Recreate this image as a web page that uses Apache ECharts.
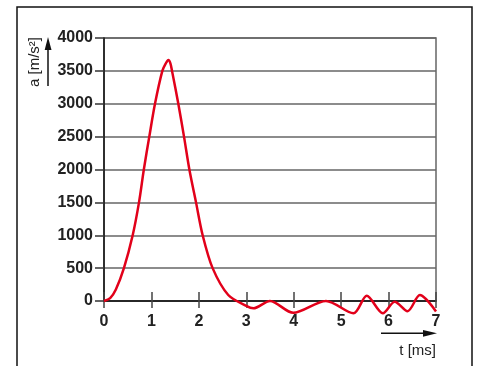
<!DOCTYPE html>
<html>
<head>
<meta charset="utf-8">
<script src="https://cdn.jsdelivr.net/npm/echarts@6/dist/echarts.min.js"></script>
<style>
  html, body { margin: 0; padding: 0; background: #fff; }
  #chart { width: 478px; height: 366px; }
</style>
</head>
<body>
<div id="chart"></div>
<script>
// time [ms] and acceleration [m/s2]
var tMs = [0, 0.13, 0.25, 0.42, 0.605, 0.738, 0.84, 0.955, 1.075, 1.23, 1.3, 1.356, 1.4, 1.434, 1.567, 1.687, 1.8, 1.94, 2.08, 2.29, 2.62, 3.0, 3.15, 3.5, 3.99, 4.68, 5.26, 5.54, 5.88, 6.13, 6.4, 6.66, 7.0]
var accel = [0, 45, 175, 500, 1000, 1500, 2000, 2500, 3000, 3500, 3610, 3665, 3615, 3500, 3000, 2500, 2000, 1500, 1000, 500, 91, -75, -111, 0, -180, 0, -187, 80, -187, -10, -155, 90, -160]
var yTicks = [0, 500, 1000, 1500, 2000, 2500, 3000, 3500, 4000]
var xTicks = [0, 1, 2, 3, 4, 5, 6, 7]

var font = "'Liberation Sans', Arial, sans-serif"
var myChart = echarts.init(document.getElementById('chart'))

var labelStyle = {
  fontFamily: font,
  fontSize: 16,
  fontWeight: 'bold',
  color: '#222'
}

var xBase = {
  type: 'value',
  position: 'bottom',
  min: xTicks[0],
  max: xTicks[xTicks.length - 1],
  interval: 1,
  splitLine: { show: false }
}

var option = {
  animation: false,
  grid: {
    left: 104,
    right: 42,
    top: 38,
    bottom: 65,
    show: true,
    borderColor: '#666',
    borderWidth: 1.5
  },
  xAxis: [
    Object.assign({}, xBase, {
      axisLine: { show: true, onZero: false, lineStyle: { color: '#111', width: 1.5 } },
      axisTick: { show: true, inside: true, length: 9, lineStyle: { color: '#444', width: 1.5 } },
      axisLabel: Object.assign({ margin: 13, formatter: function (v) { return String(v) } }, labelStyle)
    }),
    // second axis only for the lower half of the crossing ticks
    Object.assign({}, xBase, {
      axisLine: { show: false, onZero: false },
      axisTick: { show: true, inside: false, length: 7, lineStyle: { color: '#444', width: 1.5 } },
      axisLabel: { show: false }
    })
  ],
  yAxis: {
    type: 'value',
    min: yTicks[0],
    max: yTicks[yTicks.length - 1],
    interval: 500,
    axisLine: { show: true, lineStyle: { color: '#111', width: 1.5 } },
    axisTick: { show: true, length: 9, lineStyle: { color: '#333', width: 1.5 } },
    splitLine: { show: true, lineStyle: { color: '#666', width: 1.5 } },
    axisLabel: Object.assign({ margin: 11, formatter: function (v) { return String(v) } }, labelStyle)
  },
  series: [
    {
      type: 'line',
      data: tMs.map(function (t, i) { return [t, accel[i]] }),
      smooth: 0.3,
      showSymbol: false,
      clip: false,
      z: 5,
      lineStyle: { color: '#e2001a', width: 2.5 }
    }
  ],
  graphic: [
    // outer frame (open at the bottom)
    { type: 'polyline', shape: { points: [[17, 366], [17, 7], [472, 7], [472, 366]] }, style: { stroke: '#111', lineWidth: 1.5, fill: null } },
    // y axis name + arrow
    { type: 'text', x: 35, y: 62, rotation: Math.PI / 2, style: { text: 'a [m/s²]', font: '15px ' + font, fill: '#222', align: 'center', verticalAlign: 'middle' } },
    { type: 'line', shape: { x1: 48, y1: 86, x2: 48, y2: 48 }, style: { stroke: '#111', lineWidth: 1.5 } },
    { type: 'polygon', shape: { points: [[48, 37], [44.7, 50], [51.5, 50]] }, style: { fill: '#111' } },
    // x axis name + arrow
    { type: 'line', shape: { x1: 381, y1: 333.3, x2: 425, y2: 333.3 }, style: { stroke: '#111', lineWidth: 1.5 } },
    { type: 'polygon', shape: { points: [[437, 333.3], [423, 330], [423, 336.7]] }, style: { fill: '#111' } },
    { type: 'text', x: 436, y: 351, style: { text: 't [ms]', font: '15px ' + font, fill: '#222', align: 'right', verticalAlign: 'middle' } }
  ]
}

option && myChart.setOption(option)
</script>
</body>
</html>
